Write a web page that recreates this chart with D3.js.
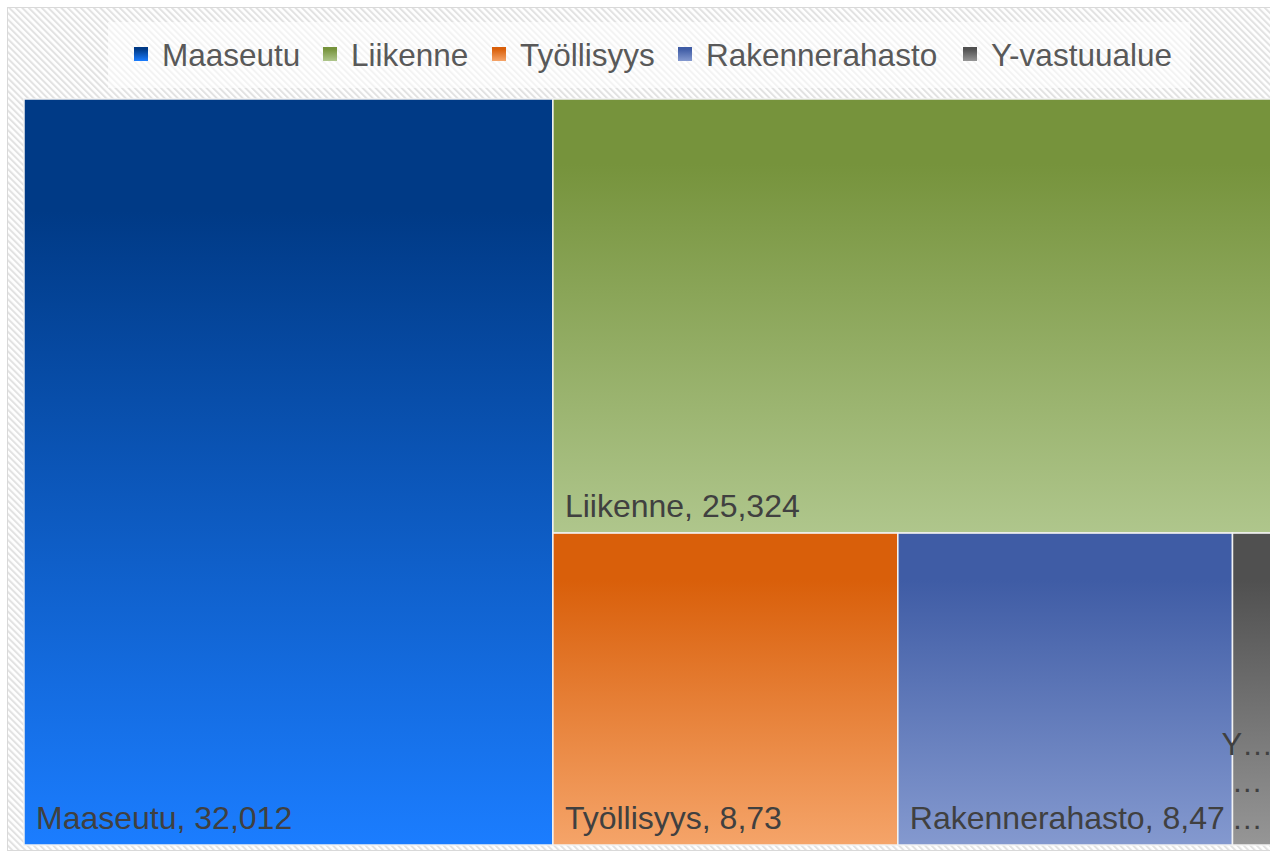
<!DOCTYPE html>
<html>
<head>
<meta charset="utf-8">
<script src="https://cdn.jsdelivr.net/npm/d3@7"></script>
<style>
  body { margin: 0; background: #fff; overflow: hidden; }
  text { font-family: "Liberation Sans", Arial, sans-serif; }
</style>
</head>
<body>
<div id="viz"></div>
<script>
const categories = ["Maaseutu", "Liikenne", "Työllisyys", "Rakennerahasto", "Y-vastuualue"];
const values = [32.012, 25.324, 8.73, 8.47, 1.0];
const valueLabels = ["32,012", "25,324", "8,73", "8,47", "1"];
const topColors = ["#003a86", "#76933c", "#d95f0a", "#3f5ca5", "#505050"];
const bottomColors = ["#1b7dff", "#afc68c", "#f5a469", "#8499cf", "#969696"];

const width = 1270;
const height = 858;
const plot = { left: 24, top: 99, width: 1248, height: 746 };

const svg = d3.select("#viz").append("svg")
    .attr("width", width)
    .attr("height", height);

const defs = svg.append("defs");

// diagonal hatch for the chart background
const hatch = defs.append("pattern")
    .attr("id", "hatch")
    .attr("patternUnits", "userSpaceOnUse")
    .attr("width", 4.6)
    .attr("height", 4.6)
    .attr("patternTransform", "rotate(-45)");
hatch.append("rect").attr("width", 4.6).attr("height", 4.6).attr("fill", "#fff");
hatch.append("rect").attr("width", 2).attr("height", 4.6).attr("fill", "#e2e2e2");

categories.forEach((c, i) => {
    const g = defs.append("linearGradient")
        .attr("id", "grad" + i)
        .attr("x1", 0).attr("y1", 0).attr("x2", 0).attr("y2", 1);
    g.append("stop").attr("offset", "0").attr("stop-color", topColors[i]);
    g.append("stop").attr("offset", "0.15").attr("stop-color", topColors[i]);
    g.append("stop").attr("offset", "1").attr("stop-color", bottomColors[i]);
});

svg.append("rect")
    .attr("x", 7.5).attr("y", 7.5)
    .attr("width", width).attr("height", height - 15)
    .attr("fill", "url(#hatch)")
    .attr("stroke", "#d9d9d9");

// legend
svg.append("rect")
    .attr("x", 108).attr("y", 22)
    .attr("width", 1082).attr("height", 66)
    .attr("fill", "#fff")
    .attr("opacity", 0.6);

const legendX = [134, 323, 492, 678, 963];
const legend = svg.selectAll(".legend")
    .data(categories)
    .join("g")
        .attr("class", "legend")
        .attr("transform", (d, i) => `translate(${legendX[i]},47)`);

legend.append("rect")
    .attr("width", 14).attr("height", 14)
    .attr("fill", (d, i) => `url(#grad${i})`);

legend.append("text")
    .attr("x", 28)
    .attr("y", 19)
    .attr("fill", "#595959")
    .style("font-size", "31.5px")
    .text(d => d);

// treemap
const root = d3.hierarchy({ children: categories.map((c, i) => ({ name: c, value: values[i], i: i })) })
    .sum(d => d.value || 0);

d3.treemap()
    .tile(d3.treemapSquarify.ratio(1))
    .size([plot.width, plot.height])(root);

const tiles = svg.append("g")
    .attr("transform", `translate(${plot.left},${plot.top})`)
    .selectAll(".tile")
    .data(root.leaves())
    .join("g")
        .attr("class", "tile");

tiles.append("rect")
    .attr("x", d => d.x0)
    .attr("y", d => d.y0)
    .attr("width", d => d.x1 - d.x0)
    .attr("height", d => d.y1 - d.y0)
    .attr("fill", d => `url(#grad${d.data.i})`)
    .attr("stroke", "#f2f2f2")
    .attr("stroke-width", 1.5);

tiles.filter(d => d.x1 - d.x0 > 100)
    .append("text")
    .attr("x", d => d.x0 + 12)
    .attr("y", d => d.y1 - 16)
    .attr("fill", "#404040")
    .style("font-size", "32px")
    .text(d => `${d.data.name}, ${valueLabels[d.data.i]}`);

// narrow tile: truncated wrapped label
const narrow = tiles.filter(d => d.x1 - d.x0 <= 100);
["Y…", "…", "…"].forEach((t, k) => {
    narrow.append("text")
        .attr("x", d => (d.x0 + d.x1) / 2 - 5)
        .attr("y", d => d.y1 - 90 + k * 37)
        .attr("text-anchor", "middle")
        .attr("fill", "#404040")
        .style("font-size", "31px")
        .text(t);
});
</script>
</body>
</html>
